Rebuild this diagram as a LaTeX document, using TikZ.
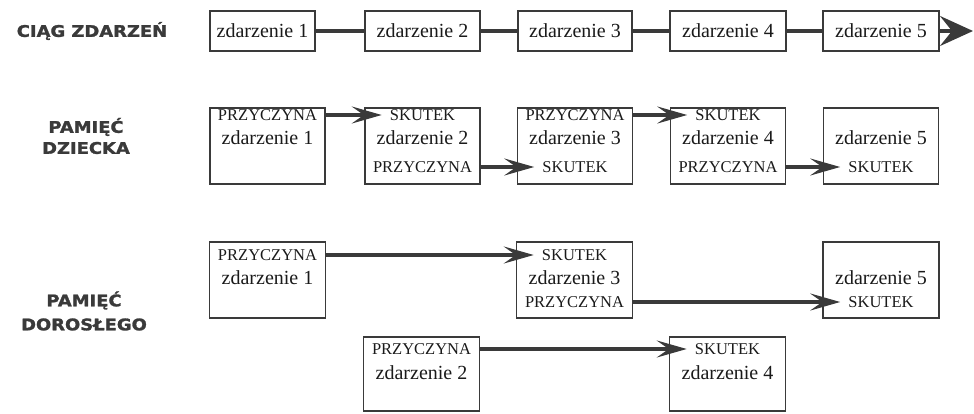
\documentclass[tikz,border=0pt]{standalone}
\usepackage{fontspec}
\setmainfont{Liberation Serif}
\newfontfamily\headfont{DejaVu Sans}[FakeStretch=1.12, FakeBold=1.6]
\usetikzlibrary{arrows.meta}
\definecolor{ink}{HTML}{3A3A3A}
\definecolor{txt}{HTML}{1A1A1A}
\tikzset{
  box/.style = {draw = ink, line width = 1.4pt, inner sep = 0pt},
  big/.style = {font = \fontsize{20}{20}\selectfont, text = txt, inner sep = 3pt},
  small/.style = {font = \fontsize{16.5}{16.5}\selectfont, text = txt, inner ysep = 4pt, inner xsep = 8pt},
  head/.style = {font = \headfont\bfseries\fontsize{16}{21}\selectfont, text = ink, align = center},
  link/.style = {draw = ink, line width = 3.4pt},
  arr/.style = {link, -{Stealth[length = 30pt, width = 17pt, inset = 12pt]}}
}
\begin{document}
\begin{tikzpicture}[x = 1pt, y = -1pt]
  \useasboundingbox (0,0) rectangle (974,414);

  % labels
  \node[head] (h1) at (92,31) {CIĄG ZDARZEŃ};
  \node[head] (h2) at (86,136) {PAMIĘĆ\\DZIECKA};
  \node[head] (h3) at (84,311) {PAMIĘĆ\\[3pt]DOROSŁEGO};

  % ciag zdarzen
  \foreach \n/\x/\w in {1/262.5/105, 2/422.5/115, 3/575/114, 4/728/116, 5/881/116}
    \node[box, big, minimum width = \w pt, minimum height = 40pt] (c\n) at (\x,31) {zdarzenie \n};
  \foreach \a/\b in {1/2, 2/3, 3/4, 4/5}
    \draw[link] (c\a) -- (c\b);
  \coordinate (cend) at (973,31);
  \draw[link, -{Stealth[length = 33pt, width = 30pt, inset = 12pt]}] (c5) -- (cend);

  % pamiec dziecka
  \foreach \n/\x in {1/267.5, 2/422.5, 3/575, 4/728, 5/881} {
    \node[box, minimum width = 115pt, minimum height = 76pt] (k\n) at (\x,146) {};
    \node[big] (kz\n) at (\x,138) {zdarzenie \n};
  }
  \node[small] (kp1) at (267.5,115) {PRZYCZYNA};
  \node[small] (ks2) at (422.5,115) {SKUTEK};
  \node[small] (kp2) at (422.5,167) {PRZYCZYNA};
  \node[small] (kp3) at (575,115) {PRZYCZYNA};
  \node[small] (ks3) at (575,167) {SKUTEK};
  \node[small] (ks4) at (728,115) {SKUTEK};
  \node[small] (kp4) at (728,167) {PRZYCZYNA};
  \node[small] (ks5) at (881,167) {SKUTEK};
  \draw[arr] (k1.east |- kp1) -- (ks2.west);
  \draw[arr] (k2.east |- kp2) -- (ks3.west);
  \draw[arr] (k3.east |- kp3) -- (ks4.west);
  \draw[arr] (k4.east |- kp4) -- (ks5.west);

  % pamiec doroslego
  \foreach \n/\x/\y/\h in {1/267.5/280/76, 3/574.5/280/76, 5/881/280/76, 2/421.5/374/74, 4/727.5/374/74} {
    \node[box, minimum width = 116pt, minimum height = \h pt] (o\n) at (\x,\y) {};
  }
  \node[small] (op1) at (267.5,255) {PRZYCZYNA};
  \node[big] (oz1) at (267.5,278) {zdarzenie 1};
  \node[small] (os3) at (574.5,255) {SKUTEK};
  \node[big] (oz3) at (574.5,278) {zdarzenie 3};
  \node[small] (op3) at (574.5,302) {PRZYCZYNA};
  \node[big] (oz5) at (881,278) {zdarzenie 5};
  \node[small] (os5) at (881,302) {SKUTEK};
  \node[small] (op2) at (421.5,349) {PRZYCZYNA};
  \node[big] (oz2) at (421.5,373) {zdarzenie 2};
  \node[small] (os4) at (727.5,349) {SKUTEK};
  \node[big] (oz4) at (727.5,373) {zdarzenie 4};
  \draw[arr] (o1.east |- op1) -- (os3.west);
  \draw[arr] (o3.east |- op3) -- (os5.west);
  \draw[arr] (o2.east |- op2) -- (os4.west);
\end{tikzpicture}
\end{document}
